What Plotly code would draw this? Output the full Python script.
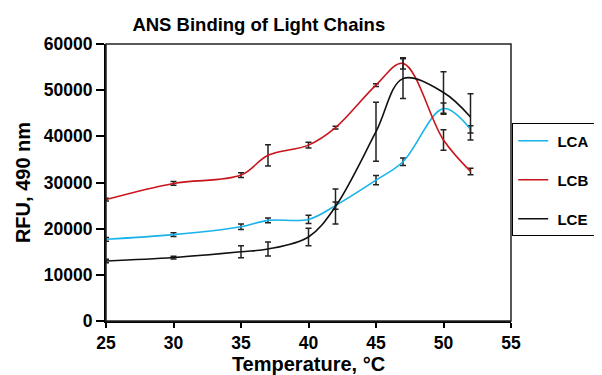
import plotly.graph_objects as go

temps = [25, 30, 35, 37, 40, 42, 45, 47, 50, 52]

lca = [17700, 18700, 20400, 21800, 22000, 25000, 30500, 34500, 46000, 41500]
lca_err = [400, 400, 600, 500, 900, 800, 1000, 800, 1200, 800]

lcb = [26300, 29800, 31600, 35900, 38100, 41900, 51100, 55800, 39200, 32400]
lcb_err = [300, 400, 500, 2300, 600, 300, 300, 1200, 2200, 700]

lce = [13000, 13750, 15000, 15600, 18200, 24800, 41000, 52500, 49500, 44200]
lce_err = [400, 300, 1300, 1500, 1900, 3800, 6400, 4300, 4500, 5000]

series = [
    ("LCA", lca, lca_err, "#17B3EA"),
    ("LCB", lcb, lcb_err, "#C8151B"),
    ("LCE", lce, lce_err, "#111111"),
]

fig = go.Figure()
for name, vals, errs, col in series:
    fig.add_trace(go.Scatter(
        x=temps, y=vals, name="&nbsp;<b>%s</b>" % name + "&nbsp;" * 14, mode="lines",
        line=dict(color=col, width=1.6, shape="spline", smoothing=1.0),
        error_y=dict(type="data", array=errs, visible=True, color="#222222",
                     thickness=1.5, width=3),
        legendgroup=name,
    ))

font_main = "Liberation Sans, Arial, sans-serif"
xt = [25, 30, 35, 40, 45, 50, 55]
yt = [0, 10000, 20000, 30000, 40000, 50000, 60000]

fig.update_layout(
    width=594, height=367,
    margin=dict(l=98, r=91, t=36, b=54, autoexpand=False),
    paper_bgcolor="white", plot_bgcolor="white",
    font=dict(family=font_main, color="black"),
    title=dict(text="<b>ANS Binding of Light Chains</b>", font=dict(size=18.5),
               x=0.4222, xanchor="center", xref="container",
               y=0.955, yanchor="middle", yref="container"),
    xaxis=dict(range=[25, 55], tickvals=xt,
               ticktext=["<b>%d</b>" % v for v in xt], automargin=False,
               showgrid=False, zeroline=False, showline=True, linecolor="black",
               linewidth=2, ticks="outside", ticklen=5, tickwidth=1.5,
               tickcolor="black", tickfont=dict(size=17.5),
               title=dict(text="<b>Temperature, °C</b>", font=dict(size=20),
                          standoff=6)),
    yaxis=dict(range=[0, 60000], tickvals=yt,
               ticktext=["<b>%d</b>" % v for v in yt], automargin=False,
               showgrid=False, zeroline=False, showline=True, linecolor="black",
               linewidth=2, ticks="outside", ticklen=8, tickwidth=1.5,
               tickcolor="black", tickfont=dict(size=17.5),
               title=dict(text="<b>RFU, 490 nm</b>", font=dict(size=20),
                          standoff=8)),
    showlegend=True,
    legend=dict(x=1.003, xanchor="left", y=0.713, yanchor="top",
                bordercolor="black", borderwidth=1, bgcolor="white",
                font=dict(size=15), tracegroupgap=16.5, itemwidth=30,
                traceorder="grouped"),
    shapes=[dict(type="rect", xref="paper", yref="paper", x0=0, x1=1, y0=0, y1=1,
                 line=dict(color="#222222", width=1.5), layer="above")],
)

fig.write_html("out.html")
